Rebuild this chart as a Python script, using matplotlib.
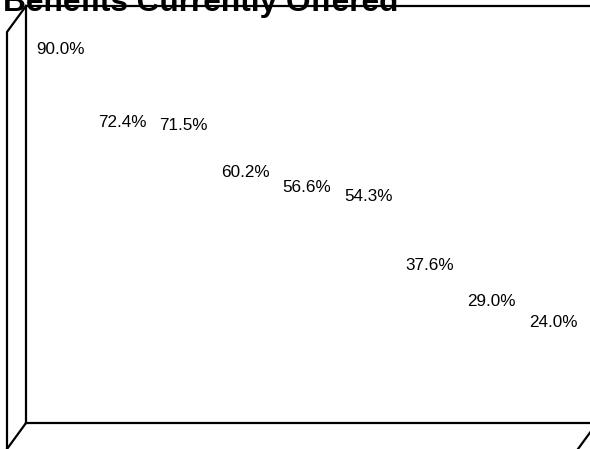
import matplotlib
matplotlib.use('Agg')
import matplotlib.pyplot as plt

plt.rcParams['font.family'] = ['Liberation Sans', 'DejaVu Sans']

title = 'Benefits Currently Offered'
values = [90.0, 72.4, 71.5, 60.2, 56.6, 54.3, 37.6, 29.0, 24.0]
labels = ['%.1f%%' % v for v in values]

W, H = 590, 449
fig = plt.figure(figsize=(W / 100, H / 100), dpi=100)

# back wall of the 3-D box, in pixels
left, right, top, bottom = 26, 597, 6, 423
ax = fig.add_axes([left / W, 1 - bottom / H, (right - left) / W, (bottom - top) / H])
x = range(len(values))
ax.bar(x, values, width=0.6, fill=False, linewidth=0)
for i, v in enumerate(values):
    ax.text(i, v, labels[i], ha='center', va='center', fontsize=12.3)
ax.set_xlim(-0.56, 8.715)
ax.set_ylim(-0.45, 100.5)
ax.set_xticks([])
ax.set_yticks([])
for s in ax.spines.values():
    s.set_linewidth(1.6)

# front edges of the box
ov = fig.add_axes([0, 0, 1, 1], facecolor='none')
ov.set_xlim(0, W)
ov.set_ylim(H, 0)
ov.axis('off')
dx, dy = -19, 26
ov.plot([left, left + dx, left + dx], [top, top + dy, H + 5], 'k', lw=1.6)
ov.plot([left, left + dx], [bottom, bottom + dy], 'k', lw=1.6)
ov.plot([right, right + dx], [bottom, bottom + dy], 'k', lw=1.6)

# title sits partly above the top edge, as in the original
fig.text(3 / W, 1 - 11 / H, title, fontsize=22.8, fontweight='bold',
         ha='left', va='baseline')

fig.savefig('out.png', dpi=100)
